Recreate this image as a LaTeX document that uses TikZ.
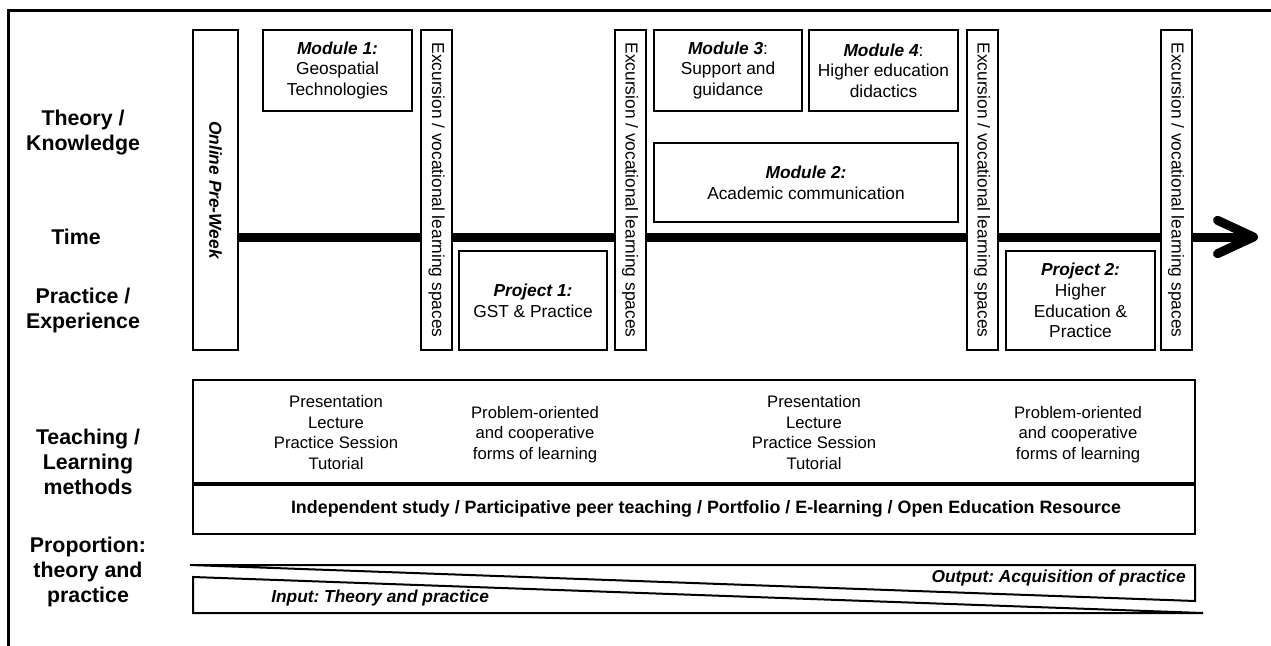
\documentclass[tikz,border=0pt]{standalone}
\usepackage{fontspec}
\setmainfont{Liberation Sans}
\usetikzlibrary{arrows.meta}
\frenchspacing
\tikzset{
    caixa/.style 2 args={shape=rectangle, draw=black, line width=1.5pt, fill=white, inner sep=0pt, align=center, minimum width=#1*0.75pt, minimum height=#2*0.75pt, font=\fontsize{13}{15.5}\selectfont},
    vertical/.style 2 args={caixa={#1}{#2}, rotate=-90},
}

\begin{document}
\begin{tikzpicture}[
                x=0.75pt, y=-0.75pt,
                rotulo/.style={align=center, font=\fontsize{16}{18.75}\selectfont\bfseries},
                texto/.style={align=center, inner sep=0pt, font=\fontsize{12.5}{15.5}\selectfont},
                destaque/.style={inner sep=0pt, font=\fontsize{13}{15.5}\selectfont\bfseries\itshape},
                seta/.style={line width=6.75pt, -{Straight Barb[length=27pt, width=25pt, round]}},
                fina/.style={line width=1.5pt},
            ]
            \useasboundingbox (0,0) rectangle (1271,646);
            \draw[line width=2.25pt] (8,646) -- (8,10) -- (1271,10);
            \node[rotulo] (teoria) at (83,132.5) {Theory /\\Knowledge};
            \node[rotulo] (tempo) at (76,237) {Time};
            \node[rotulo] (pratica) at (83,310) {Practice /\\Experience};
            \node[rotulo] (ensino) at (88,462) {Teaching /\\Learning\\methods};
            \node[rotulo] (proporcao) at (88,572) {Proportion:\\theory and\\practice};
            \node[vertical={320}{45}] (pre) at (215.5,190) {\bfseries\itshape Online Pre-Week};
            \coordinate (fim) at (1258,237);
            \draw[seta] (pre.north |- tempo) -- (fim);
            \node[caixa={149}{81}] (m1) at (337.5,70.5) {{\bfseries\itshape Module 1:}\\Geospatial\\Technologies};
            \node[vertical={320}{31}] (e1) at (436.5,190) {Excursion / vocational learning spaces};
            \node[caixa={148}{99}] (p1) at (533,300.5) {{\bfseries\itshape Project 1:}\\GST \& Practice};
            \node[vertical={320}{31}] (e2) at (630,190) {Excursion / vocational learning spaces};
            \node[caixa={148}{81}] (m3) at (728,70.5) {{\bfseries\itshape Module 3}:\\Support and\\guidance};
            \node[caixa={149}{81}] (m4) at (883.5,70.5) {{\bfseries\itshape Module 4}:\\Higher education\\didactics};
            \node[caixa={304}{79}] (m2) at (806,182.5) {{\bfseries\itshape Module 2:}\\Academic communication};
            \node[vertical={320}{31}] (e3) at (982,190) {Excursion / vocational learning spaces};
            \node[caixa={149}{99}] (p2) at (1080.5,300.5) {{\bfseries\itshape Project 2:}\\Higher\\Education \&\\Practice};
            \node[vertical={320}{31}] (e4) at (1176,190) {Excursion / vocational learning spaces};
            \node[caixa={1002}{103}] (metodos) at (694,431.5) {};
            \node[caixa={1002}{51}] (estudo) at (694,508.5) {\fontsize{13.4}{16}\selectfont\bfseries\hspace*{18pt}Independent study / Participative peer teaching / Portfolio / E-learning / Open Education Resource};
            \draw[line width=3pt] (metodos.south west) -- (metodos.south east);
            \node[texto] (c1) at (336,432.5) {Presentation\\Lecture\\Practice Session\\Tutorial};
            \node[texto] (c2) at (535,434.5) {Problem-oriented\\and cooperative\\forms of learning};
            \node[texto] (c3) at (814,432.5) {Presentation\\Lecture\\Practice Session\\Tutorial};
            \node[texto] (c4) at (1078,434.5) {Problem-oriented\\and cooperative\\forms of learning};
            \draw[fina] (190,565) -- (1195,565) -- (1195,601) -- cycle;
            \draw[fina] (193,577) -- (193,613) -- (1203,613) -- cycle;
            \node[destaque, anchor=east] (saida) at (1186,578) {Output: Acquisition of practice};
            \node[destaque, anchor=west] (entrada) at (271,598) {Input: Theory and practice};
        \end{tikzpicture}
\end{document}
